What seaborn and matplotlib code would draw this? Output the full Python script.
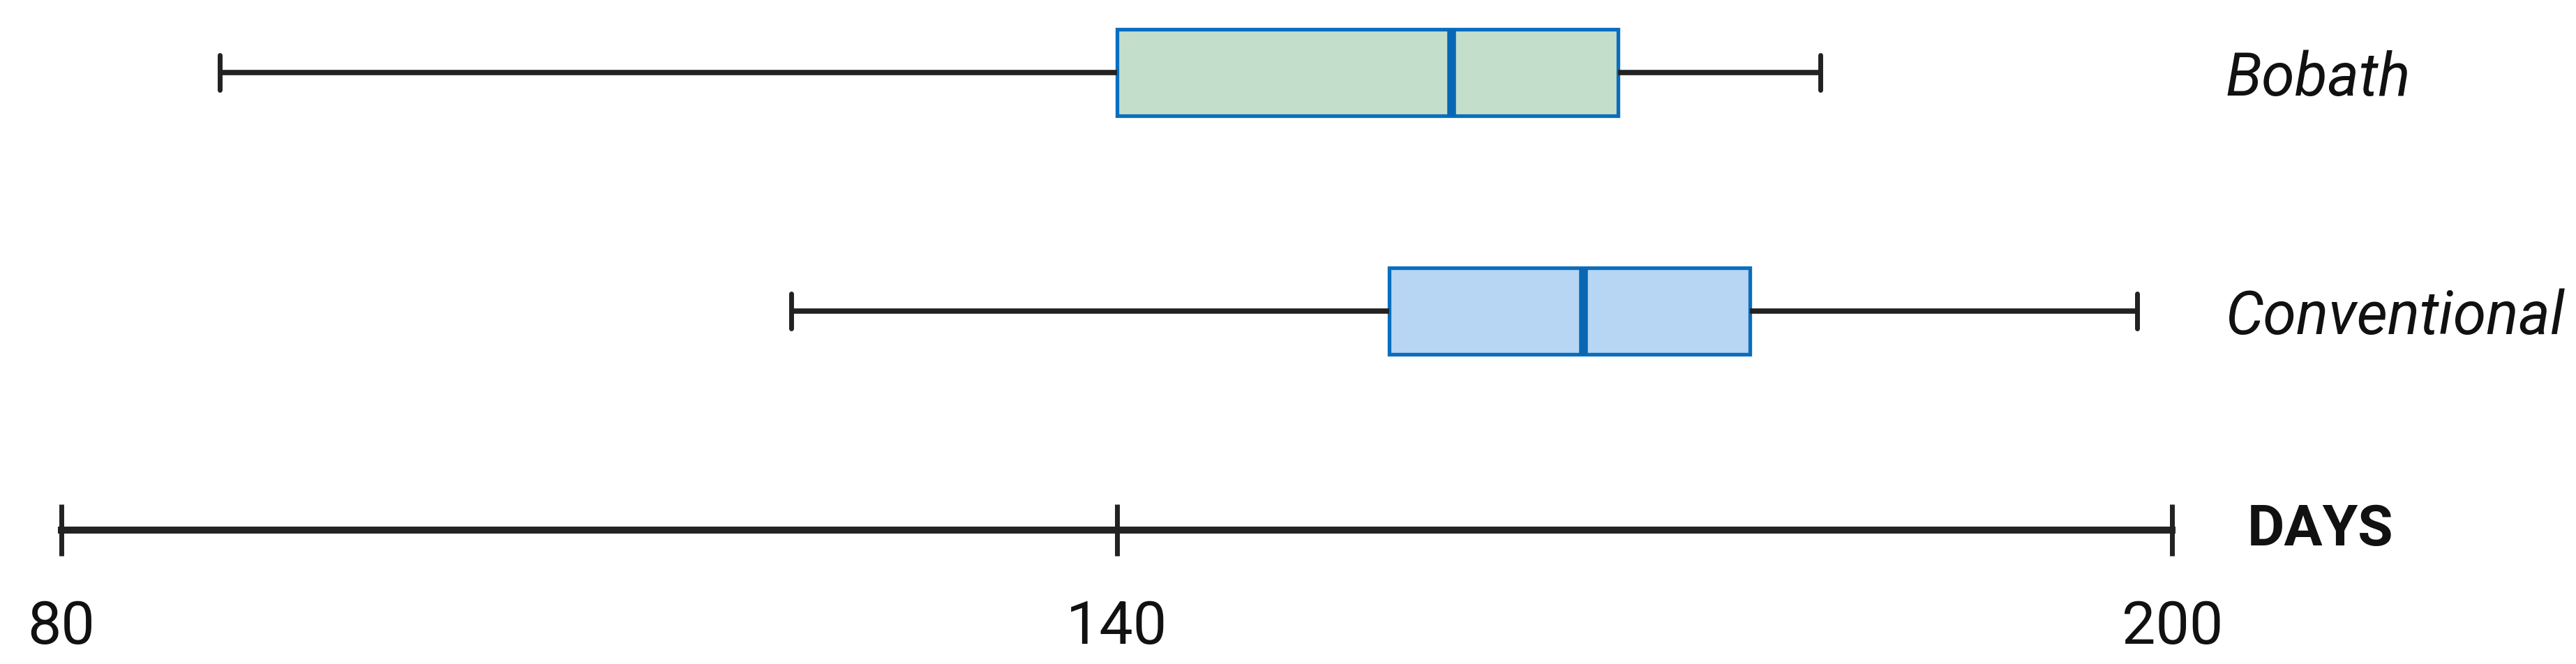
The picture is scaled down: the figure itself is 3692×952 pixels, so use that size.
import pandas as pd
import matplotlib
matplotlib.use("Agg")
import matplotlib.pyplot as plt
import seaborn as sns

# five-number summaries (min, Q1, median, Q3, max)
groups = ["Bobath", "Conventional"]
bobath_days = [89, 140, 159, 168.5, 180]
conventional_days = [121.5, 155.5, 166.5, 176, 198]
x_ticks = [80, 140, 200]
fill_colors = {"Bobath": "#C3DECB", "Conventional": "#B7D6F3"}

df = pd.DataFrame({
    "group": [groups[0]] * len(bobath_days) + [groups[1]] * len(conventional_days),
    "days": bobath_days + conventional_days,
})

sns.set_theme(style="white")
plt.rcParams["font.family"] = ["Roboto", "DejaVu Sans"]

fig = plt.figure(figsize=(36.92, 9.52), dpi=100)
ax = fig.add_axes([0.02384, 0.2017, 0.8194, 0.7983])

edge_blue = "#0A6EBD"
line_black = "#222222"

sns.boxplot(
    data=df, x="days", y="group", hue="group", palette=fill_colors,
    order=groups, legend=False, ax=ax, whis=(0, 100), width=0.365,
    saturation=1, linewidth=3.8, showfliers=False,
    boxprops=dict(edgecolor=edge_blue, linewidth=3.8),
    medianprops=dict(color="#0866B5", linewidth=9),
    whiskerprops=dict(color=line_black, linewidth=5.5),
    capprops=dict(color=line_black, linewidth=5),
    capwidths=0.146,
)

ax.set_xlim(x_ticks[0], x_ticks[-1])
ax.set_ylim(1.918, -0.304)
ax.set_xticks(x_ticks)
ax.set_xticklabels([str(t) for t in x_ticks])

for s in ["top", "left", "right"]:
    ax.spines[s].set_visible(False)
ax.spines["bottom"].set_color(line_black)
ax.spines["bottom"].set_linewidth(7.2)

ax.tick_params(axis="x", bottom=True, direction="inout", length=52.6, width=5,
               color=line_black, pad=45, labelsize=62, labelcolor="#111111")

ax.yaxis.tick_right()
ax.tick_params(axis="y", length=0, pad=55, labelsize=62, labelcolor="#111111")
for lab in ax.get_yticklabels():
    lab.set_style("italic")
ax.set_ylabel("")

ax.set_xlabel("DAYS", fontsize=59, fontweight="bold", color="#111111")
ax.xaxis.set_label_coords(1.0357, 0.0)
ax.xaxis.label.set_ha("left")
ax.xaxis.label.set_va("center")

fig.savefig("out.png", dpi=100)
